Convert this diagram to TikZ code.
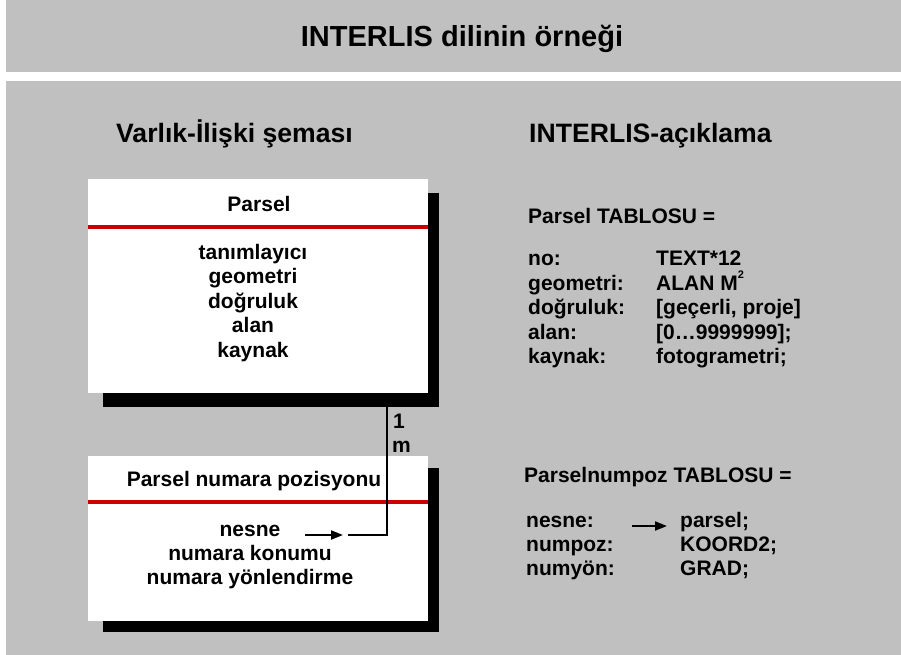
\documentclass[tikz,border=0pt]{standalone}
\usepackage{fontspec}
\setmainfont{Liberation Sans}
\usetikzlibrary{arrows.meta}
\definecolor{bg}{HTML}{C0C0C0}
\definecolor{redl}{HTML}{CC0000}
\begin{document}
\begin{tikzpicture}[x=1pt,y=-1pt,
  titletxt/.style={font=\fontsize{29}{31}\selectfont\bfseries, inner sep=0pt, anchor=base},
  headtxt/.style={font=\fontsize{26.6}{28}\selectfont\bfseries, inner sep=0pt, anchor=base west},
  txt/.style={font=\fontsize{21}{24}\selectfont\bfseries, inner sep=0pt, anchor=base},
  ltxt/.style={txt, anchor=base west},
  shadowbox/.style={fill=black, draw=none},
  whitebox/.style={fill=white, draw=none},
  redline/.style={draw=redl, line width=4pt},
  conn/.style={draw=black, line width=2pt},
  arr/.style={draw=black, line width=2pt, -{Triangle[length=12pt,width=9pt]}}]
\useasboundingbox (0,0) rectangle (901,655);
% bands
\fill[bg] (6,0) rectangle (901,72);
\fill[bg] (6,81) rectangle (901,655);
\node[titletxt] (title) at (462,47) {INTERLIS dilinin örneği};
\node[headtxt] (h1) at (116,143) {Varlık-İlişki şeması};
\node[headtxt] (h2) at (529,143) {INTERLIS-açıklama};

% upper entity box
\fill[shadowbox] (103,193) rectangle (439,407);
\fill[whitebox] (88,179) rectangle (428,393);
\draw[redline] (88,227) -- (428,227);
\node[txt] (ptitle) at (259,211) {Parsel};
\node[txt] (p1) at (253,259) {tanımlayıcı};
\node[txt] (p2) at (253,283.5) {geometri};
\node[txt] (p3) at (253,308) {doğruluk};
\node[txt] (p4) at (253,332.5) {alan};
\node[txt] (p5) at (253,357) {kaynak};

% lower entity box
\fill[shadowbox] (103,468) rectangle (439,632);
\fill[whitebox] (88,456) rectangle (428,621);
\draw[redline] (88,502) -- (428,502);
\node[txt] (qtitle) at (254,486.5) {Parsel numara pozisyonu};
\node[txt] (q1) at (250,536.5) {nesne};
\node[txt] (q2) at (250,560.5) {numara konumu};
\node[txt] (q3) at (250,584.5) {numara yönlendirme};

% relationship connector
\coordinate (ctop) at (387,407);
\coordinate (cend) at (348,535);
\draw[conn] (ctop) |- (cend);
\coordinate (a1s) at (305,535);
\coordinate (a1e) at (343,535);
\draw[arr] (a1s) -- (a1e);
\node[ltxt] (one) at (393,428) {1};
\node[ltxt] (em) at (392,452) {m};

% INTERLIS description upper
\node[ltxt] (t1) at (528,223.5) {Parsel TABLOSU =};
\node[ltxt] (r1a) at (528,265.5) {no:};
\node[ltxt] (r1b) at (656,265.5) {TEXT*12};
\node[ltxt] (r2a) at (528,290) {geometri:};
\node[ltxt] (r2b) at (656,290) {ALAN M\raisebox{0.55em}{\fontsize{11}{11}\selectfont 2}};
\node[ltxt] (r3a) at (528,314.5) {doğruluk:};
\node[ltxt] (r3b) at (656,314.5) {[geçerli, proje]};
\node[ltxt] (r4a) at (528,339) {alan:};
\node[ltxt] (r4b) at (656,339) {[0…9999999];};
\node[ltxt] (r5a) at (528,363.5) {kaynak:};
\node[ltxt] (r5b) at (656,363.5) {fotogrametri;};

% INTERLIS description lower
\node[ltxt] (t2) at (524,482.5) {Parselnumpoz TABLOSU =};
\node[ltxt] (s1a) at (526,527.5) {nesne:};
\node[ltxt] (s1b) at (680,527.5) {parsel;};
\node[ltxt] (s2a) at (526,551.5) {numpoz:};
\node[ltxt] (s2b) at (680,551.5) {KOORD2;};
\node[ltxt] (s3a) at (526,575) {numyön:};
\node[ltxt] (s3b) at (680,575) {GRAD;};
\coordinate (a2s) at (632,526);
\coordinate (a2e) at (667,526);
\draw[arr] (a2s) -- (a2e);
\end{tikzpicture}
\end{document}
